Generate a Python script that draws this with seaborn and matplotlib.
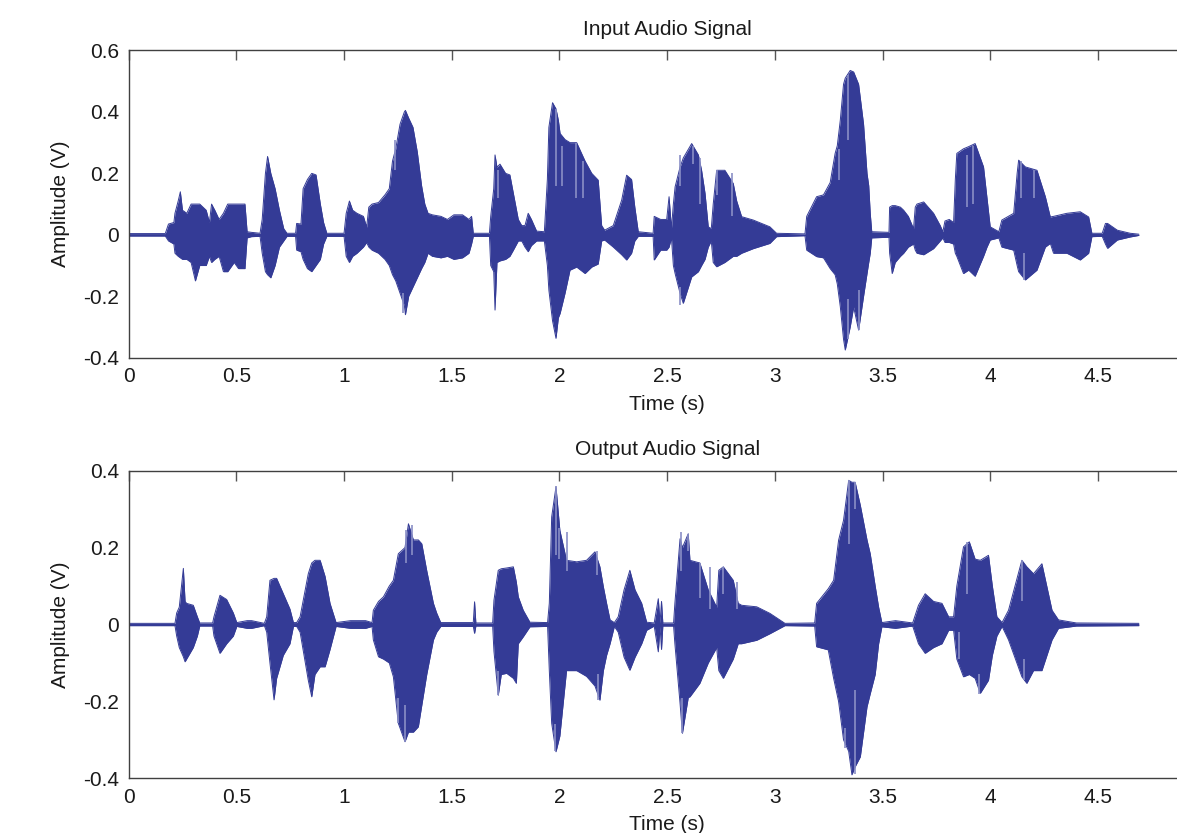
import matplotlib
matplotlib.use("Agg")
import matplotlib.pyplot as plt
import pandas as pd
import seaborn as sns

# envelope of the input signal: time (s), upper peak (V), lower peak (V)
t_in = [0.00, 0.17, 0.185, 0.21, 0.215, 0.23, 0.24, 0.25, 0.27, 0.29, 0.31, 0.33, 0.36, 0.375,
        0.385, 0.40, 0.42, 0.44, 0.46, 0.49, 0.51, 0.54, 0.55, 0.57, 0.61, 0.62, 0.635, 0.645,
        0.66, 0.68, 0.70, 0.72, 0.735, 0.775, 0.78, 0.80, 0.81, 0.83, 0.85, 0.87, 0.89, 0.905,
        0.92, 1.00, 1.01, 1.025, 1.04, 1.06, 1.09, 1.105, 1.115, 1.13, 1.16, 1.19, 1.21, 1.225,
        1.24, 1.26, 1.28, 1.285, 1.30, 1.32, 1.34, 1.36, 1.375, 1.39, 1.41, 1.45, 1.48, 1.51,
        1.55, 1.58, 1.592, 1.60, 1.675, 1.681, 1.695, 1.701, 1.71, 1.724, 1.75, 1.77, 1.786,
        1.809, 1.825, 1.84, 1.855, 1.87, 1.894, 1.93, 1.944, 1.951, 1.968, 1.984, 1.995, 2.003,
        2.026, 2.049, 2.08, 2.119, 2.15, 2.18, 2.196, 2.21, 2.25, 2.289, 2.312, 2.335, 2.35,
        2.366, 2.435, 2.44, 2.47, 2.498, 2.509, 2.52, 2.529, 2.537, 2.56, 2.575, 2.614, 2.645,
        2.66, 2.676, 2.691, 2.705, 2.714, 2.73, 2.768, 2.807, 2.823, 2.846, 2.9, 2.977, 3.008,
        3.14, 3.148, 3.194, 3.226, 3.257, 3.28, 3.29, 3.304, 3.319, 3.327, 3.35, 3.366, 3.389,
        3.412, 3.428, 3.436, 3.443, 3.45, 3.53, 3.533, 3.545, 3.559, 3.583, 3.598, 3.62, 3.644,
        3.652, 3.66, 3.691, 3.737, 3.768, 3.78, 3.79, 3.81, 3.83, 3.838, 3.845, 3.876, 3.9,
        3.93, 3.969, 3.985, 4.0, 4.04, 4.054, 4.109, 4.125, 4.132, 4.163, 4.217, 4.256, 4.279,
        4.294, 4.356, 4.418, 4.457, 4.472, 4.52, 4.535, 4.545, 4.59, 4.65, 4.69]
up_in = [0.004, 0.004, 0.035, 0.04, 0.07, 0.11, 0.14, 0.08, 0.07, 0.10, 0.10, 0.10, 0.08, 0.04,
         0.10, 0.08, 0.05, 0.07, 0.10, 0.10, 0.10, 0.10, 0.01, 0.008, 0.005, 0.05, 0.20, 0.255,
         0.20, 0.15, 0.08, 0.02, 0.005, 0.005, 0.037, 0.035, 0.15, 0.18, 0.20, 0.195, 0.10, 0.04,
         0.005, 0.005, 0.07, 0.11, 0.08, 0.07, 0.06, 0.025, 0.09, 0.10, 0.105, 0.13, 0.15, 0.24,
         0.28, 0.36, 0.40, 0.405, 0.38, 0.35, 0.27, 0.16, 0.10, 0.07, 0.065, 0.06, 0.05, 0.065,
         0.065, 0.05, 0.06, 0.005, 0.005, 0.06, 0.15, 0.26, 0.22, 0.23, 0.20, 0.195, 0.135,
         0.05, 0.03, 0.03, 0.07, 0.05, 0.012, 0.01, 0.18, 0.35, 0.43, 0.41, 0.373, 0.33,
         0.31, 0.30, 0.30, 0.24, 0.20, 0.178, 0.03, 0.015, 0.03, 0.113, 0.194, 0.18, 0.09,
         0.01, 0.005, 0.06, 0.05, 0.05, 0.124, 0.02, 0.10, 0.156, 0.22, 0.25, 0.297, 0.26,
         0.21, 0.135, 0.026, 0.02, 0.10, 0.21, 0.21, 0.167, 0.11, 0.059, 0.048, 0.026, 0.005,
         0.003, 0.06, 0.124, 0.13, 0.17, 0.265, 0.29, 0.373, 0.49, 0.51, 0.535, 0.53, 0.49,
         0.36, 0.20, 0.16, 0.07, 0.01, 0.008, 0.09, 0.095, 0.095, 0.09, 0.08, 0.06, 0.02,
         0.09, 0.10, 0.107, 0.07, 0.03, 0.01, 0.045, 0.05, 0.04, 0.18, 0.265, 0.28, 0.287,
         0.297, 0.221, 0.12, 0.026, 0.01, 0.048, 0.07, 0.20, 0.243, 0.221, 0.21, 0.124, 0.058,
         0.06, 0.07, 0.075, 0.058, 0.005, 0.005, 0.037, 0.037, 0.015, 0.005, 0.002]
lo_in = [-0.004, -0.004, -0.02, -0.03, -0.06, -0.07, -0.075, -0.08, -0.08, -0.09, -0.15, -0.10,
         -0.10, -0.07, -0.09, -0.08, -0.07, -0.12, -0.12, -0.09, -0.11, -0.11, -0.01, -0.006,
         -0.005, -0.06, -0.12, -0.13, -0.14, -0.10, -0.04, -0.02, -0.005, -0.005, -0.05, -0.055,
         -0.08, -0.11, -0.12, -0.10, -0.08, -0.03, -0.005, -0.005, -0.07, -0.09, -0.07, -0.06,
         -0.04, -0.025, -0.04, -0.05, -0.06, -0.08, -0.10, -0.13, -0.15, -0.19, -0.23, -0.26,
         -0.20, -0.17, -0.14, -0.11, -0.09, -0.06, -0.07, -0.075, -0.07, -0.08, -0.075, -0.06,
         -0.03, -0.005, -0.005, -0.10, -0.12, -0.245, -0.09, -0.085, -0.08, -0.07, -0.05,
         -0.02, -0.02, -0.04, -0.055, -0.035, -0.02, -0.02, -0.10, -0.18, -0.28, -0.337, -0.27,
         -0.256, -0.19, -0.115, -0.105, -0.126, -0.105, -0.095, -0.02, -0.017, -0.04, -0.065,
         -0.082, -0.06, -0.02, -0.005, -0.005, -0.082, -0.05, -0.05, -0.04, -0.01, -0.10,
         -0.126, -0.19, -0.223, -0.137, -0.12, -0.10, -0.08, -0.04, -0.02, -0.09, -0.104, -0.09,
         -0.07, -0.07, -0.06, -0.045, -0.028, -0.006, -0.003, -0.05, -0.071, -0.075, -0.11,
         -0.13, -0.16, -0.234, -0.34, -0.375, -0.30, -0.235, -0.31, -0.20, -0.126, -0.09, -0.06,
         -0.01, -0.008, -0.06, -0.126, -0.09, -0.07, -0.06, -0.04, -0.03, -0.05, -0.06, -0.065,
         -0.045, -0.02, -0.01, -0.025, -0.025, -0.03, -0.06, -0.07, -0.126, -0.115, -0.135,
         -0.07, -0.04, -0.017, -0.01, -0.04, -0.05, -0.10, -0.12, -0.147, -0.115, -0.04, -0.028,
         -0.06, -0.06, -0.082, -0.06, -0.006, -0.005, -0.03, -0.044, -0.017, -0.007, -0.002]

# envelope of the output signal
t_out = [0.00, 0.215, 0.223, 0.235, 0.254, 0.262, 0.269, 0.30, 0.319, 0.33, 0.39, 0.396, 0.424,
         0.455, 0.486, 0.502, 0.55, 0.571, 0.63, 0.641, 0.656, 0.675, 0.687, 0.718, 0.749, 0.765,
         0.78, 0.796, 0.834, 0.85, 0.865, 0.889, 0.912, 0.935, 0.963, 1.03, 1.10, 1.13, 1.136,
         1.16, 1.183, 1.21, 1.229, 1.252, 1.283, 1.299, 1.322, 1.345, 1.361, 1.384, 1.415, 1.43,
         1.449, 1.60, 1.606, 1.612, 1.69, 1.696, 1.716, 1.73, 1.755, 1.786, 1.80, 1.809, 1.832,
         1.863, 1.945, 1.953, 1.964, 1.984, 2.002, 2.033, 2.08, 2.126, 2.165, 2.188, 2.204,
         2.219, 2.235, 2.255, 2.273, 2.30, 2.327, 2.351, 2.382, 2.405, 2.44, 2.459, 2.467,
         2.474, 2.48, 2.53, 2.536, 2.56, 2.571, 2.598, 2.606, 2.652, 2.691, 2.73, 2.74, 2.761,
         2.807, 2.83, 2.846, 2.916, 2.977, 3.047, 3.185, 3.194, 3.248, 3.273, 3.296, 3.319,
         3.343, 3.358, 3.373, 3.397, 3.428, 3.443, 3.466, 3.482, 3.497, 3.56, 3.64, 3.667,
         3.698, 3.737, 3.776, 3.807, 3.83, 3.845, 3.876, 3.903, 3.93, 3.954, 3.992, 4.01, 4.031,
         4.055, 4.085, 4.147, 4.17, 4.201, 4.24, 4.287, 4.317, 4.40, 4.69]
up_out = [0.003, 0.003, 0.03, 0.045, 0.146, 0.06, 0.055, 0.05, 0.02, 0.004, 0.004, 0.02, 0.076,
          0.065, 0.03, 0.005, 0.01, 0.01, 0.003, 0.02, 0.115, 0.12, 0.12, 0.08, 0.04, 0.005,
          0.005, 0.02, 0.132, 0.16, 0.167, 0.167, 0.125, 0.055, 0.005, 0.01, 0.01, 0.005, 0.037,
          0.06, 0.072, 0.10, 0.115, 0.184, 0.20, 0.262, 0.22, 0.22, 0.21, 0.14, 0.055, 0.03,
          0.005, 0.005, 0.059, 0.004, 0.004, 0.063, 0.141, 0.145, 0.147, 0.15, 0.11, 0.072, 0.037,
          0.006, 0.005, 0.055, 0.28, 0.358, 0.245, 0.167, 0.163, 0.167, 0.189, 0.15, 0.098,
          0.055, 0.012, 0.005, 0.02, 0.09, 0.141, 0.09, 0.055, 0.006, 0.004, 0.067, 0.004,
          0.06, 0.004, 0.004, 0.055, 0.223, 0.20, 0.236, 0.167, 0.16, 0.09, 0.045, 0.141, 0.15,
          0.115, 0.055, 0.05, 0.046, 0.029, 0.003, 0.004, 0.055, 0.093, 0.115, 0.219, 0.271,
          0.375, 0.37, 0.37, 0.31, 0.22, 0.184, 0.10, 0.045, 0.005, 0.01, 0.004, 0.05,
          0.08, 0.06, 0.055, 0.02, 0.02, 0.10, 0.202, 0.215, 0.17, 0.167, 0.18, 0.10, 0.02,
          0.005, 0.037, 0.167, 0.15, 0.132, 0.158, 0.037, 0.012, 0.004, 0.003]
lo_out = [-0.003, -0.003, -0.03, -0.06, -0.084, -0.097, -0.09, -0.06, -0.03, -0.004, -0.004,
          -0.03, -0.075, -0.05, -0.03, -0.005, -0.01, -0.01, -0.003, -0.02, -0.10, -0.196, -0.14,
          -0.08, -0.05, -0.005, -0.005, -0.02, -0.145, -0.188, -0.13, -0.11, -0.11, -0.065,
          -0.005, -0.01, -0.01, -0.005, -0.04, -0.084, -0.09, -0.10, -0.136, -0.257, -0.305,
          -0.28, -0.28, -0.266, -0.21, -0.13, -0.04, -0.02, -0.005, -0.005, -0.023, -0.004,
          -0.004, -0.07, -0.184, -0.13, -0.127, -0.14, -0.153, -0.05, -0.032, -0.006, -0.005,
          -0.12, -0.257, -0.331, -0.29, -0.12, -0.12, -0.135, -0.16, -0.197, -0.12, -0.08, -0.05,
          -0.005, -0.02, -0.085, -0.119, -0.085, -0.05, -0.015, -0.004, -0.071, -0.005, -0.065,
          -0.004, -0.004, -0.05, -0.205, -0.283, -0.19, -0.188, -0.153, -0.10, -0.06, -0.12,
          -0.14, -0.09, -0.05, -0.05, -0.041, -0.024, -0.003, -0.004, -0.058, -0.066, -0.14,
          -0.20, -0.30, -0.33, -0.391, -0.37, -0.344, -0.214, -0.18, -0.13, -0.05, -0.006, -0.01,
          -0.004, -0.05, -0.075, -0.06, -0.05, -0.015, -0.015, -0.09, -0.136, -0.13, -0.14,
          -0.179, -0.145, -0.08, -0.03, -0.005, -0.04, -0.136, -0.153, -0.12, -0.12, -0.04,
          -0.01, -0.004, -0.003]

# lighter single-sample streaks seen inside the bursts: time, from, to (V)
streak_t_in = [1.237, 1.272, 1.716, 1.984, 2.01, 2.077, 2.11, 2.56, 2.618, 2.652, 2.73, 2.80,
               2.56, 3.296, 3.342, 3.342, 3.389, 3.892, 3.92, 4.142, 4.201, 4.155]
streak_a_in = [0.21, -0.19, 0.12, 0.16, 0.16, 0.12, 0.12, 0.16, 0.23, 0.10, 0.13, 0.06,
               -0.17, 0.18, 0.31, -0.21, -0.18, 0.09, 0.10, 0.12, 0.12, -0.06]
streak_b_in = [0.31, -0.256, 0.21, 0.41, 0.29, 0.30, 0.24, 0.26, 0.29, 0.25, 0.21, 0.20,
               -0.23, 0.28, 0.52, -0.34, -0.31, 0.26, 0.29, 0.24, 0.21, -0.147]
streak_t_out = [1.288, 1.314, 1.252, 1.283, 1.984, 2.0, 2.033, 2.173, 1.98, 2.563, 2.598,
                2.652, 2.698, 2.761, 2.823, 2.571, 1.716, 2.18, 3.343, 3.373, 3.373, 3.327,
                3.892, 3.853, 3.946, 4.147, 4.155]
streak_a_out = [0.16, 0.18, -0.19, -0.21, 0.18, 0.17, 0.14, 0.13, -0.26, 0.14, 0.19, 0.07,
                0.04, 0.08, 0.04, -0.19, -0.12, -0.13, 0.21, 0.30, -0.17, -0.27, 0.08, -0.02,
                -0.13, 0.06, -0.09]
streak_b_out = [0.245, 0.26, -0.257, -0.305, 0.36, 0.25, 0.24, 0.19, -0.33, 0.24, 0.236,
                0.16, 0.15, 0.15, 0.11, -0.283, -0.184, -0.197, 0.375, 0.37, -0.39, -0.32,
                0.215, -0.09, -0.18, 0.167, -0.145]

titles = ["Input Audio Signal", "Output Audio Signal"]
x_ticks = [0, 0.5, 1, 1.5, 2, 2.5, 3, 3.5, 4, 4.5]
x_labels = ["0", "0.5", "1", "1.5", "2", "2.5", "3", "3.5", "4", "4.5"]
y_ticks_in = [-0.4, -0.2, 0, 0.2, 0.4, 0.6]
y_labels_in = ["-0.4", "-0.2", "0", "0.2", "0.4", "0.6"]
y_ticks_out = [-0.4, -0.2, 0, 0.2, 0.4]
y_labels_out = ["-0.4", "-0.2", "0", "0.2", "0.4"]

WAVE = "#343b96"
STREAK = "#8a8fc6"
INK = "#1a1a1a"

sns.set_style("white")
plt.rcParams["font.family"] = ["Liberation Sans", "DejaVu Sans"]

fig = plt.figure(figsize=(11.77, 8.33), dpi=100)
ax_in = fig.add_axes([0.1093, 0.5706, 0.915, 0.3688])
ax_out = fig.add_axes([0.1093, 0.0657, 0.915, 0.3692])

panels = [
    (ax_in, t_in, up_in, lo_in, streak_t_in, streak_a_in, streak_b_in,
     y_ticks_in, y_labels_in, (-0.4, 0.6)),
    (ax_out, t_out, up_out, lo_out, streak_t_out, streak_a_out, streak_b_out,
     y_ticks_out, y_labels_out, (-0.4, 0.4)),
]

for (ax, t, up, lo, st, sa, sb, yt, yl, ylim), title in zip(panels, titles):
    df = pd.DataFrame({"Time": t, "upper": up, "lower": lo})
    ax.fill_between(df["Time"], df["lower"], df["upper"], color=WAVE, lw=0)
    sns.lineplot(data=df, x="Time", y="upper", ax=ax, color=WAVE, lw=0.7, errorbar=None)
    sns.lineplot(data=df, x="Time", y="lower", ax=ax, color=WAVE, lw=0.7, errorbar=None)
    # light streaks in the bursts
    ax.vlines(st, sa, sb, color=STREAK, lw=1.2)

    ax.set_xlim(0, 5)
    ax.set_ylim(*ylim)
    ax.set_xticks(x_ticks)
    ax.set_xticklabels(x_labels)
    ax.set_yticks(yt)
    ax.set_yticklabels(yl)
    ax.tick_params(direction="in", length=7, width=1, color="#555555",
                   labelsize=15, labelcolor=INK, top=True, right=True, pad=7)
    for s in ax.spines.values():
        s.set_color("#404040")
        s.set_linewidth(1)
    ax.set_title(title, fontsize=15, color=INK, pad=11)
    ax.set_xlabel("Time (s)", fontsize=15, color=INK, labelpad=6)
    ax.set_ylabel("Amplitude (V)", fontsize=15, color=INK, labelpad=9)

fig.savefig("out.png", dpi=100)
